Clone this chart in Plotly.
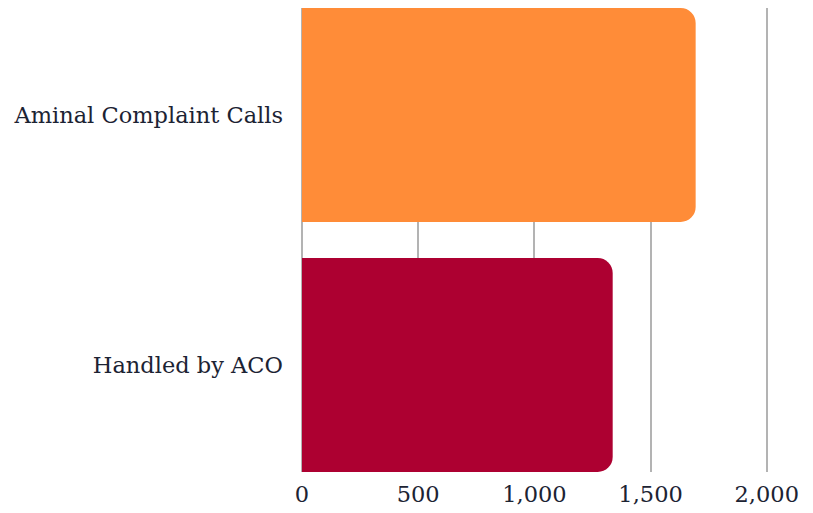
import plotly.graph_objects as go

categories = ["Aminal Complaint Calls", "Handled by ACO"]
values = [1694, 1337]
colors = ["#FF8C38", "#AD0031"]
tick_vals = [0, 500, 1000, 1500, 2000]
tick_text = ["0", "500", "1,000", "1,500", "2,000"]

fig = go.Figure(go.Bar(
    y=categories, x=values, orientation="h",
    marker=dict(color=colors, line=dict(width=0)),
    hoverinfo="skip",
))
fig.update_layout(
    width=813, height=513,
    margin=dict(l=294, r=31, t=0, b=49),
    paper_bgcolor="white", plot_bgcolor="white",
    bargap=0.144, barcornerradius=15,
    font=dict(family="DejaVu Serif", color="#1c2333"),
    showlegend=False,
)
fig.update_xaxes(
    range=[0, 2100], tickvals=tick_vals, ticktext=tick_text,
    showgrid=True, gridcolor="#b3b3b3", gridwidth=2,
    zeroline=True, zerolinecolor="#b3b3b3", zerolinewidth=2,
    tickfont=dict(size=22.5), ticklabelstandoff=6, showline=False,
)
fig.update_yaxes(
    autorange=False, range=[1.5 - 0.072, -0.5 + 0.072],
    tickfont=dict(size=22.5), ticklabelstandoff=18, showgrid=False,
    showline=False,
)
fig.write_html("out.html")
